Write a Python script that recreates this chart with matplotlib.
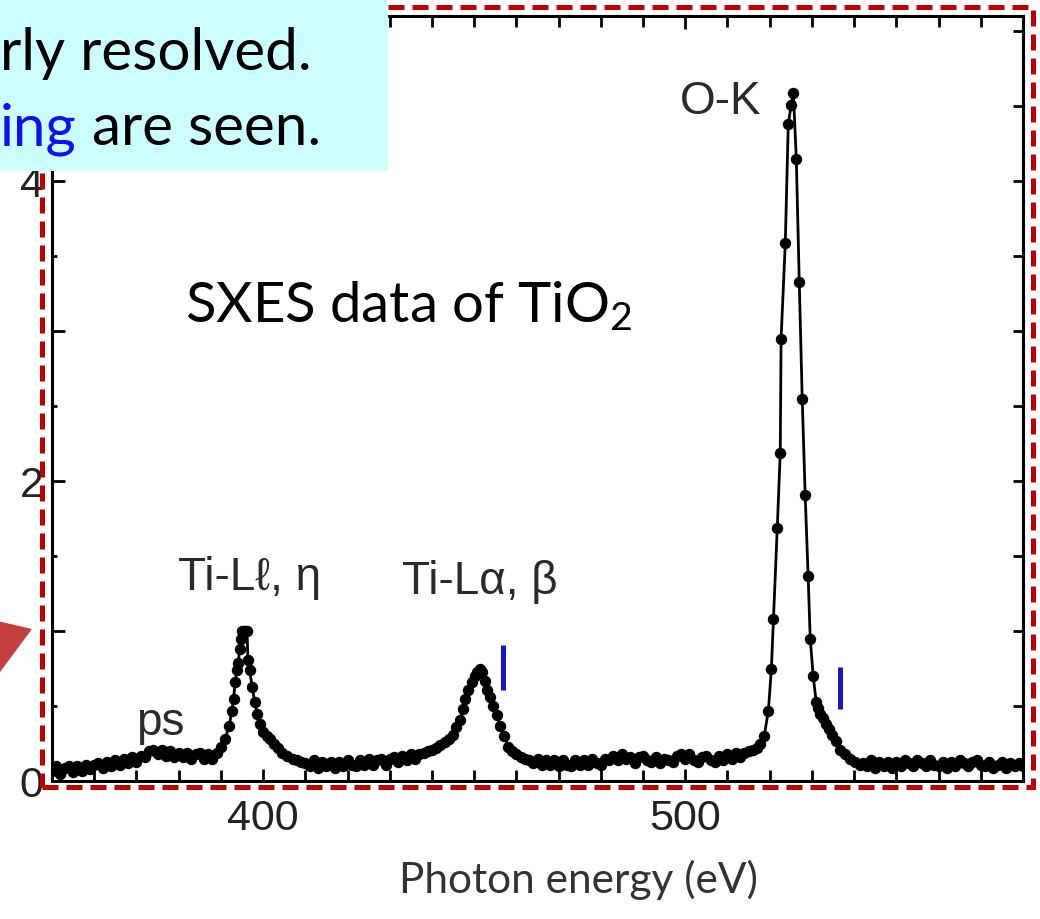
import numpy as np
import matplotlib
matplotlib.use("Agg")
import matplotlib.pyplot as plt
from matplotlib.patches import Rectangle, Polygon
from matplotlib.ticker import FixedLocator, MultipleLocator, FuncFormatter

plt.rcParams['font.family'] = ['Liberation Sans', 'DejaVu Sans']
plt.rcParams['mathtext.fontset'] = 'custom'
plt.rcParams['mathtext.rm'] = 'Lato'
plt.rcParams['mathtext.it'] = 'Lato'

# SXES spectrum of TiO2
energy = [350, 351, 352, 353, 354, 355, 356, 357, 358, 359, 360, 361, 362, 363, 364,
          365, 366, 367, 368, 369, 370, 371, 372, 373, 374, 375, 376, 377, 378, 379,
          380, 381, 382, 383, 384, 385, 386, 387, 388, 389, 390, 391,
          392, 392.6, 393, 393.4, 393.8, 394.1, 394.5, 394.8, 395.0, 395.4, 395.8, 396.2,
          396.4, 396.8, 397.4, 398.0, 398.6, 399.3, 400, 401, 401.6, 402.5, 403.5, 404.5,
          405.7, 407, 408, 409,
          410, 411, 412, 413, 414, 415, 416, 417, 418, 419, 420, 421, 422, 423, 424,
          425, 426, 427, 428, 429, 430, 431, 432, 433, 434, 435, 436, 437, 438, 439,
          440, 441, 442, 443, 444, 445, 445.8, 446.7, 447.3, 447.9, 448.6, 449.5, 450.1,
          450.7, 451.3, 451.9, 452.5, 453.1, 453.8, 454.5, 455.3, 456.2, 457.1, 458.1,
          459, 460, 461, 462, 463, 464, 465, 466, 467,
          468, 469, 470, 471, 472, 473, 474, 475, 476, 477, 478, 479, 480, 481, 482,
          483, 484, 485, 486, 487, 488, 489, 490, 491, 492, 493, 494, 495, 496, 497,
          498, 499, 500, 501, 502, 503, 504, 505, 506, 507, 508, 509, 510, 511, 512,
          513, 514, 515, 516, 517, 517.8,
          518.7, 519.7, 520.4, 520.9, 521.8, 522.5, 522.7, 523.7, 524.4, 525.1, 525.6,
          526.3, 527.0, 527.7, 528.4, 529.1, 529.6, 530.3, 531.0, 531.5, 532.0, 532.7,
          533.4, 534.1, 534.8, 535.7, 536.7, 537.9, 539.1, 540.3, 541.5,
          542, 543, 544, 545, 546, 547, 548, 549, 550, 551, 552, 553, 554, 555, 556,
          557, 558, 559, 560, 561, 562, 563, 564, 565, 566, 567, 568, 569, 570, 571,
          572, 573, 574, 575, 576, 577, 578, 579, 580]
intensity = [0.07, 0.10, 0.05, 0.09, 0.10, 0.06, 0.10, 0.07, 0.11, 0.08, 0.11, 0.12, 0.09, 0.13, 0.10,
             0.14, 0.11, 0.15, 0.12, 0.16, 0.13, 0.17, 0.16, 0.20, 0.21, 0.18, 0.21, 0.17, 0.20, 0.16,
             0.19, 0.16, 0.19, 0.15, 0.18, 0.19, 0.15, 0.18, 0.15, 0.19, 0.23, 0.28,
             0.37, 0.47, 0.55, 0.66, 0.74, 0.79, 0.88, 0.95, 1.00, 1.00, 1.00, 1.00,
             0.81, 0.74, 0.63, 0.53, 0.45, 0.38, 0.33, 0.30, 0.28, 0.25, 0.22, 0.19,
             0.17, 0.15, 0.14, 0.13,
             0.12, 0.10, 0.14, 0.09, 0.13, 0.10, 0.13, 0.09, 0.13, 0.10, 0.14, 0.11, 0.10, 0.14, 0.11,
             0.15, 0.11, 0.14, 0.15, 0.11, 0.15, 0.16, 0.13, 0.17, 0.14, 0.18, 0.15, 0.18, 0.19, 0.20,
             0.21, 0.22, 0.24, 0.26, 0.28, 0.31, 0.36, 0.41, 0.48, 0.55, 0.61, 0.66, 0.70,
             0.73, 0.75, 0.73, 0.67, 0.61, 0.56, 0.50, 0.44, 0.37, 0.30, 0.23,
             0.20, 0.18, 0.16, 0.15, 0.14, 0.12, 0.15, 0.11, 0.14,
             0.11, 0.14, 0.10, 0.14, 0.11, 0.10, 0.14, 0.11, 0.14, 0.11, 0.15, 0.12, 0.11, 0.15, 0.14,
             0.17, 0.14, 0.18, 0.15, 0.16, 0.12, 0.16, 0.17, 0.14, 0.13, 0.16, 0.12, 0.15, 0.14, 0.13,
             0.17, 0.18, 0.15, 0.18, 0.14, 0.13, 0.16, 0.17, 0.14, 0.13, 0.17, 0.14, 0.18, 0.15, 0.19,
             0.16, 0.19, 0.20, 0.21, 0.22, 0.25,
             0.30, 0.47, 0.75, 1.08, 1.69, 2.19, 2.95, 3.59, 4.38, 4.51, 4.59,
             4.15, 3.33, 2.55, 1.91, 1.37, 0.95, 0.70, 0.53, 0.49, 0.45, 0.42,
             0.38, 0.35, 0.31, 0.27, 0.21, 0.18, 0.15, 0.13, 0.11,
             0.12, 0.10, 0.14, 0.09, 0.13, 0.10, 0.13, 0.09, 0.13, 0.10, 0.14, 0.12, 0.10, 0.14, 0.12,
             0.10, 0.14, 0.11, 0.10, 0.13, 0.09, 0.13, 0.10, 0.14, 0.12, 0.10, 0.13, 0.14, 0.11, 0.10,
             0.13, 0.09, 0.11, 0.13, 0.09, 0.12, 0.10, 0.12, 0.10]

# peak labels: (text, x, y)
peak_labels = [("O-K", 508.3, 4.45),
               ("Ti-L\u2113, \u03b7", 396.9, 1.28),
               ("Ti-L\u03b1, \u03b2", 451.4, 1.25),
               ("ps", 375.6, 0.31)]

# blue markers: (x, y_low, y_high)
blue_marks = [(456.9, 0.61, 0.91), (536.7, 0.48, 0.76)]

W, H = 1040, 920
fig = plt.figure(figsize=(W / 100, H / 100), dpi=100)
ax = fig.add_axes([52 / W, 1 - 782 / H, 971 / W, 765 / H])

ax.plot(energy, intensity, '-o', color='black', lw=2, ms=7.2, zorder=3)

for x, y0, y1 in blue_marks:
    ax.plot([x, x], [y0, y1], color='#1414C8', lw=3.6, solid_capstyle='butt', zorder=4)

for txt, x, y in peak_labels:
    ax.text(x, y, txt, ha='center', va='baseline', fontsize=33, color='#2a2a2a')

ax.set_xlim(350, 580)
ax.set_ylim(0, 5.1)
ax.xaxis.set_major_locator(FixedLocator([400, 500]))
ax.xaxis.set_minor_locator(MultipleLocator(10))
ax.yaxis.set_major_locator(FixedLocator([0, 1, 2, 3, 4, 5]))
ax.yaxis.set_minor_locator(MultipleLocator(0.5))
ax.yaxis.set_major_formatter(FuncFormatter(lambda v, p: "%d" % v if v in (0, 2, 4) else ""))

for s in ax.spines.values():
    s.set_linewidth(2.2)
ax.tick_params(which='both', direction='in', top=True, right=False, width=2,
               labelsize=31, labelcolor='#222222')
ax.tick_params(axis='x', which='major', length=9, pad=12)
ax.tick_params(axis='x', which='minor', length=8)
ax.tick_params(axis='y', which='major', length=9, pad=6)
ax.tick_params(axis='y', which='minor', length=3.5)

sec = ax.secondary_yaxis('right')
sec.set_yticks(list(np.arange(0, 5.1, 0.5)))
sec.tick_params(direction='in', length=7, width=2, labelright=False)
sec.spines['right'].set_linewidth(2.2)

fig.text(578 / W, 1 - 893 / H, "Photon energy (eV)", ha='center', va='baseline',
         fontsize=30.5, color='#333333', family=['Lato', 'DejaVu Sans'])

fig.text(185 / W, 1 - 322 / H, r"SXES data of TiO$_2$", ha='left', va='baseline',
         fontsize=40.5, color='black', family=['Lato', 'DejaVu Sans'])

# red dashed frame
fig.add_artist(Rectangle((42 / W, 1 - 788 / H), 991 / W, 780 / H, transform=fig.transFigure,
                         fill=False, edgecolor='#C00000', lw=3.6, linestyle=(0, (3.2, 1.6)),
                         zorder=5))

# red arrow head at the left edge
fig.add_artist(Polygon([(-20 / W, 1 - 618 / H), (32 / W, 1 - 630 / H), (-20 / W, 1 - 700 / H)],
                       closed=True, transform=fig.transFigure, facecolor='#C4403F',
                       edgecolor='none', zorder=6))

# cyan note box
fig.add_artist(Rectangle((0, 1 - 172 / H), 388 / W, 172 / H, transform=fig.transFigure,
                         facecolor='#CCFFFF', edgecolor='none', zorder=7))
fig.text(0 / W, 1 - 70 / H, "rly resolved.", ha='left', va='baseline', fontsize=42,
         color='black', family=['Lato', 'DejaVu Sans'], zorder=8)
t_ing = fig.text(0 / W, 1 - 145 / H, "ing", ha='left', va='baseline', fontsize=42,
                 color='#1010F0', family=['Lato', 'DejaVu Sans'], zorder=8)
fig.canvas.draw()
bb = t_ing.get_window_extent()
fig.text(bb.x1 / W, 1 - 145 / H, " are seen.", ha='left', va='baseline', fontsize=42,
         color='black', family=['Lato', 'DejaVu Sans'], zorder=8)

fig.savefig("out.png", dpi=100)
